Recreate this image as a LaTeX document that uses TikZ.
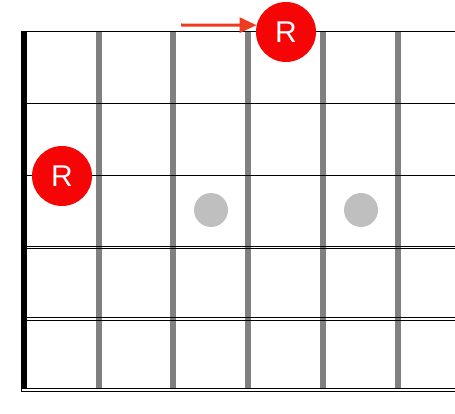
\documentclass[tikz,border=0pt]{standalone}
\usepackage{fontspec}
\usepackage{tikz}
\usetikzlibrary{arrows.meta}
\newfontfamily\rootfont{Liberation Sans}
\definecolor{rootred}{RGB}{245,5,5}
\definecolor{arrowred}{RGB}{238,58,32}

\begin{document}
\begin{tikzpicture}[x=1pt, y=-1pt,
	fret/.style={line width=5.6pt, gray},
	nut/.style={line width=6pt, black},
	plain string/.style={line width=1pt, black},
	wound string/.style={line width=0.9pt, black},
	root/.style={circle, fill=rootred, minimum size=60pt, inner sep=0pt, text=white, font=\rootfont\fontsize{30}{30}\selectfont},
	marker/.style={circle, fill=gray!50, minimum size=34pt, inner sep=0pt}]
	\useasboundingbox (0,0) rectangle (455,414);
	% nut and frets
	\draw[nut] (24,32) -- (24,388);
	\draw[fret] (99,32) -- (99,388);
	\draw[fret] (173,32) -- (173,388);
	\draw[fret] (248,32) -- (248,388);
	\draw[fret] (323,32) -- (323,388);
	\draw[fret] (398,32) -- (398,388);
	% strings
	\draw[plain string] (21,32) -- (460,32);
	\draw[plain string] (21,104) -- (460,104);
	\draw[plain string] (21,175.5) -- (460,175.5);
	\draw[wound string] (21.7,246.3) rectangle (460,248.9);
	\draw[wound string] (21.7,317.7) rectangle (460,320.3);
	\draw[wound string] (21.7,388.3) rectangle (460,391.9);
	% position markers
	\node[marker] (dot3) at (211,210) {};
	\node[marker] (dot5) at (361,210) {};
	% roots
	\node[root] (r6) at (62,176) {R};
	\node[root] (r3) at (286,32) {R};
	\coordinate (from) at (181,25);
	\path[-{Triangle[length=17pt,width=15pt]}, line width=3pt, arrowred]
	(from) edge (r3.167)
	;
	\end{tikzpicture}
\end{document}
